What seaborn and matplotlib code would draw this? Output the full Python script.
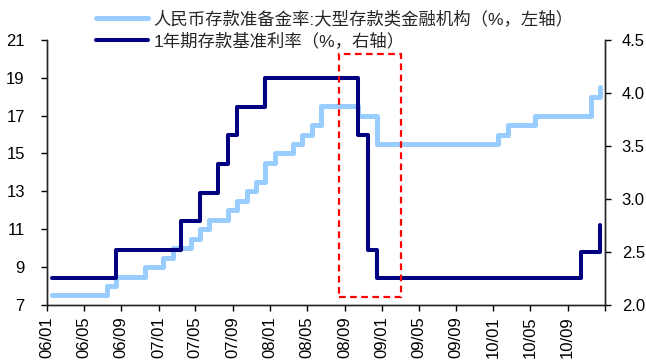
import matplotlib
matplotlib.use("Agg")
import matplotlib.pyplot as plt
import matplotlib.dates as mdates
from matplotlib.patches import Rectangle
import pandas as pd
import seaborn as sns

# Month-end values, Jan 2006 - Dec 2010
months = pd.date_range("2006-01-01", "2010-12-01", freq="MS") + pd.Timedelta(days=15)

# Reserve requirement ratio, large depository institutions (%)
rrr = [
    7.5, 7.5, 7.5, 7.5, 7.5, 7.5, 8.0, 8.5, 8.5, 8.5, 9.0, 9.0,            # 2006
    9.5, 10.0, 10.0, 10.5, 11.0, 11.5, 11.5, 12.0, 12.5, 13.0, 13.5, 14.5,  # 2007
    15.0, 15.0, 15.5, 16.0, 16.5, 17.5, 17.5, 17.5, 17.5, 17.0, 17.0, 15.5,  # 2008
    15.5, 15.5, 15.5, 15.5, 15.5, 15.5, 15.5, 15.5, 15.5, 15.5, 15.5, 15.5,  # 2009
    16.0, 16.5, 16.5, 16.5, 17.0, 17.0, 17.0, 17.0, 17.0, 17.0, 18.0, 18.5,  # 2010
]

# 1-year benchmark deposit rate (%)
dep_rate = [
    2.25, 2.25, 2.25, 2.25, 2.25, 2.25, 2.25, 2.52, 2.52, 2.52, 2.52, 2.52,  # 2006
    2.52, 2.52, 2.79, 2.79, 3.06, 3.06, 3.33, 3.60, 3.87, 3.87, 3.87, 4.14,  # 2007
    4.14, 4.14, 4.14, 4.14, 4.14, 4.14, 4.14, 4.14, 4.14, 3.60, 2.52, 2.25,  # 2008
    2.25, 2.25, 2.25, 2.25, 2.25, 2.25, 2.25, 2.25, 2.25, 2.25, 2.25, 2.25,  # 2009
    2.25, 2.25, 2.25, 2.25, 2.25, 2.25, 2.25, 2.25, 2.25, 2.50, 2.50, 2.75,  # 2010
]

rrr_label = "人民币存款准备金率:大型存款类金融机构（%，左轴）"
dep_label = "1年期存款基准利率（%，右轴）"

left_ticks = [7, 9, 11, 13, 15, 17, 19, 21]
right_ticks = [2.0, 2.5, 3.0, 3.5, 4.0, 4.5]
x_ticks = pd.date_range("2006-01-01", "2011-01-01", freq="4MS")
x_ticklabels = ["06/01", "06/05", "06/09", "07/01", "07/05", "07/09",
                "08/01", "08/05", "08/09", "09/01", "09/05", "09/09",
                "10/01", "10/05", "10/09", ""]

# Highlighted easing window (dates, left-axis values)
box_start, box_end = pd.Timestamp("2008-08-12"), pd.Timestamp("2009-03-04")
box_low, box_high = 7.43, 20.25

sns.set_style("ticks")
plt.rcParams["font.family"] = ["Liberation Sans", "Noto Sans CJK SC", "DejaVu Sans"]
plt.rcParams["axes.linewidth"] = 1.0

fig = plt.figure(figsize=(6.46, 3.63), dpi=100)
fig.subplots_adjust(left=0.0728, right=0.9365, bottom=0.160, top=0.890)
ax = fig.add_subplot(111)
ax2 = ax.twinx()

df = pd.DataFrame({"month": months, "rrr": rrr, "dep": dep_rate})

sns.lineplot(data=df, x="month", y="rrr", ax=ax, drawstyle="steps-post",
             color="#99CCFF", linewidth=3.6, label=rrr_label, legend=False)
sns.lineplot(data=df, x="month", y="dep", ax=ax2, drawstyle="steps-post",
             color="#000080", linewidth=2.9, label=dep_label, legend=False)

ax.set_xlim(pd.Timestamp("2006-01-01"), pd.Timestamp("2011-01-01"))
ax.set_ylim(7, 21)
ax2.set_ylim(2.0, 4.5)
ax.set_yticks(left_ticks)
ax.set_yticklabels([str(t) for t in left_ticks])
ax2.set_yticks(right_ticks)
ax2.set_yticklabels([f"{t:.1f}" for t in right_ticks])

ax.set_xticks(mdates.date2num(x_ticks))
ax.set_xticklabels(x_ticklabels, rotation=90)

ax.set_xlabel("")
ax.set_ylabel("")
ax2.set_ylabel("")

for a in (ax, ax2):
    a.spines["top"].set_visible(False)
    a.tick_params(labelsize=12, length=4, width=1, colors="black")
ax.tick_params(axis="y", pad=12)
ax2.tick_params(axis="y", pad=8)
ax.tick_params(axis="x", pad=4)

# Dashed highlight box drawn above both lines
rect = Rectangle((mdates.date2num(box_start), box_low),
                 mdates.date2num(box_end) - mdates.date2num(box_start),
                 box_high - box_low, transform=ax.transData,
                 fill=False, edgecolor="#FF0000", linestyle=(0, (3, 2)),
                 linewidth=1.6, zorder=10)
ax2.add_patch(rect)

h1, l1 = ax.get_legend_handles_labels()
h2, l2 = ax2.get_legend_handles_labels()
fig.legend(h1 + h2, l1 + l2, loc="upper left", bbox_to_anchor=(0.138, 0.99),
           frameon=False, fontsize=12.5, handlelength=3.0, handletextpad=0.3,
           labelspacing=0.25, borderaxespad=0)

fig.savefig("out.png", dpi=100)
